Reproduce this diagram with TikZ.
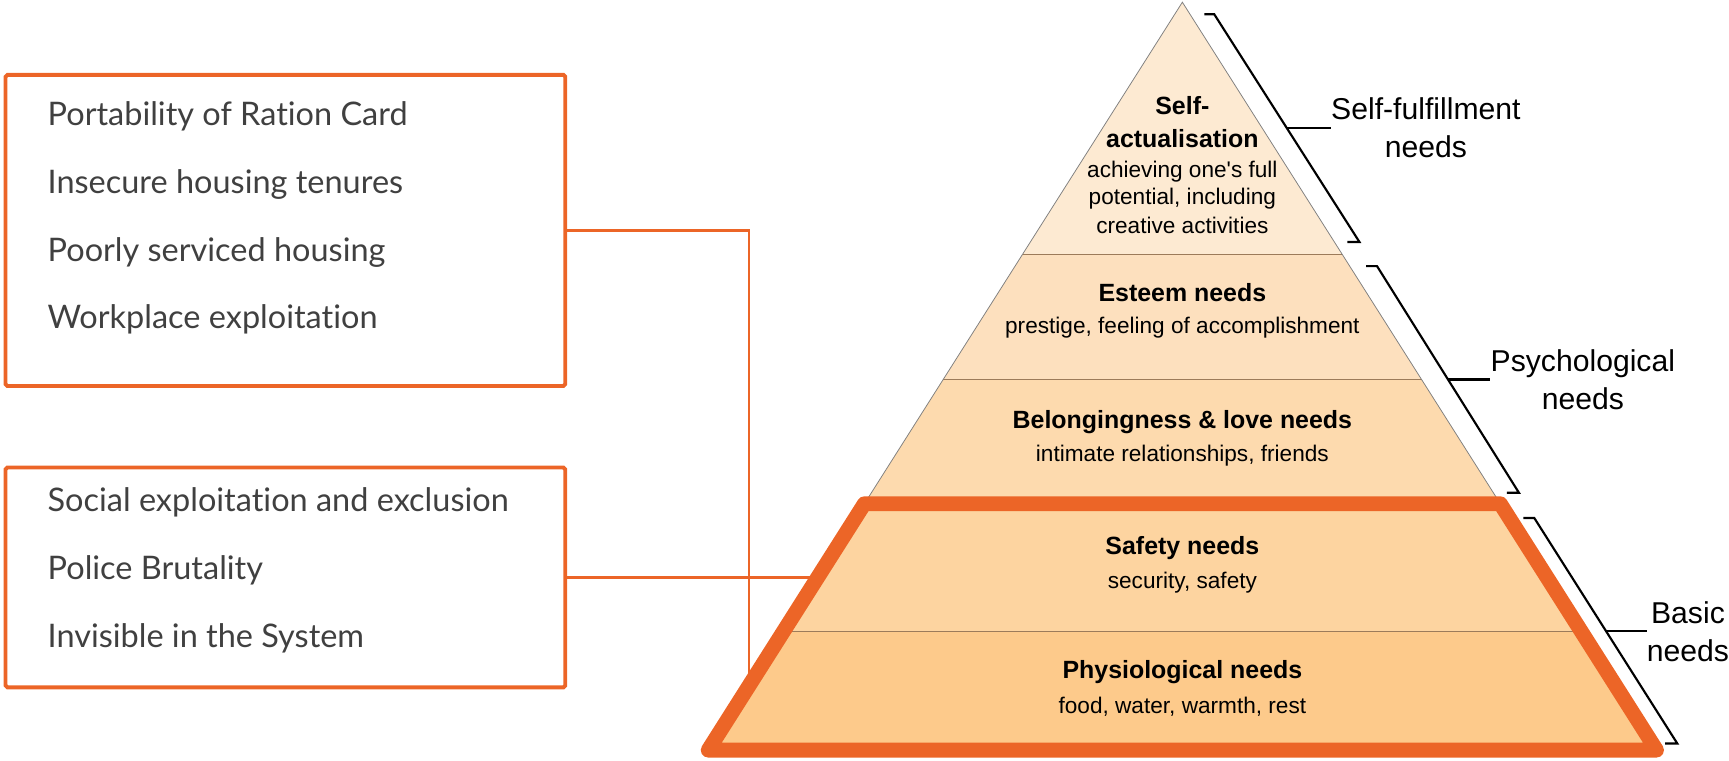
\documentclass[tikz,border=0pt]{standalone}
\usepackage{fontspec}
\setmainfont{Liberation Sans}
\newfontfamily\issuefont[Ligatures=NoCommon]{Lato}
\definecolor{hiorange}{HTML}{EC6527}
\definecolor{issuetext}{HTML}{404040}
\definecolor{selfcol}{HTML}{FDEAD2}
\definecolor{esteemcol}{HTML}{FDE0BE}
\definecolor{belongcol}{HTML}{FDDAAE}
\definecolor{safetycol}{HTML}{FDD4A0}
\definecolor{physiocol}{HTML}{FDCA8B}
\definecolor{bandline}{HTML}{9C7B5A}

\begin{document}
\begin{tikzpicture}[x=0.02cm,y=-0.02cm]
    \tikzstyle{issuebox}=[draw=hiorange, line width=2pt, rounded corners=1pt, minimum width=10.18cm]
    \tikzstyle{issue}=[anchor=base west, inner sep=0, text=issuetext, font=\issuefont\fontsize{16.8}{20}\selectfont]
    \tikzstyle{layertitle}=[anchor=base, inner sep=0, font=\fontsize{12.9}{15}\selectfont\bfseries]
    \tikzstyle{detail}=[anchor=base, inner sep=0, font=\fontsize{11.7}{14}\selectfont]
    \tikzstyle{needlabel}=[anchor=west, inner sep=0, align=center, font=\fontsize{15.6}{19.6}\selectfont]
    \tikzstyle{band}=[draw=bandline, line width=0.6pt]
    \tikzstyle{link}=[draw=hiorange, line width=1.5pt]
    \tikzstyle{levelbrace}=[line width=1.1pt]

    \useasboundingbox (0,0) rectangle (1572,691);

    \node[issuebox, minimum height=5.66cm] (housing) at (259.5,209.5) {};
    \node[issuebox, minimum height=4cm] (social) at (259.5,525) {};
    \node[issue] (ration) at (43,114) {Portability of Ration Card};
    \node[issue] (tenure) at (43,176) {Insecure housing tenures};
    \node[issue] (serviced) at (43,238) {Poorly serviced housing};
    \node[issue] (workplace) at (43,299) {Workplace exploitation};
    \node[issue] (exclusion) at (43,465) {Social exploitation and exclusion};
    \node[issue] (police) at (43,527) {Police Brutality};
    \node[issue] (invisible) at (43,589) {Invisible in the System};

    \fill[selfcol] (1075,2) -- (1220.2,231) -- (929.8,231) -- cycle;
    \fill[esteemcol] (929.8,231) -- (1220.2,231) -- (1292.5,345) -- (857.5,345) -- cycle;
    \fill[belongcol] (857.5,345) -- (1292.5,345) -- (1364.1,458) -- (785.9,458) -- cycle;
    \fill[safetycol] (785.9,458) -- (1364.1,458) -- (1437.6,574) -- (712.4,574) -- cycle;
    \fill[physiocol] (712.4,574) -- (1437.6,574) -- (1506.1,682) -- (643.9,682) -- cycle;
    \draw[band] (929.8,231) -- (1220.2,231);
    \draw[band] (857.5,345) -- (1292.5,345);
    \draw[band] (712.4,574) -- (1437.6,574);
    \draw[gray, line width=0.4pt] (643.9,682) -- (1075,2) -- (1506.1,682);

    \node[layertitle] (selfa) at (1075,104.5) {Self-};
    \node[layertitle] (selfb) at (1075,134) {actualisation};
    \node[detail] (selfc) at (1075,161) {achieving one\textquotesingle s full};
    \node[detail] (selfd) at (1075,186) {potential, including};
    \node[detail] (selfe) at (1075,212) {creative activities};
    \node[layertitle] (esteem) at (1075,274) {Esteem needs};
    \node[detail] (esteemd) at (1075,303) {prestige, feeling of accomplishment};
    \node[layertitle] (belong) at (1075,390) {Belongingness \& love needs};
    \node[detail] (belongd) at (1075,420) {intimate relationships, friends};
    \node[layertitle] (safety) at (1075,504) {Safety needs};
    \node[detail] (safetyd) at (1075,535) {security, safety};
    \node[layertitle] (physio) at (1075,617) {Physiological needs};
    \node[detail] (physiod) at (1075,649) {food, water, warmth, rest};

    \coordinate (edgeA) at (681,623);
    \coordinate (edgeB) at (743.4,525);
    \draw[link] (housing.east) -| (edgeA);
    \draw[link] (social.east) -- (edgeB);

    \draw[hiorange, line width=7.7pt, line join=round] (785.9,458) -- (1364.1,458) -- (1506.1,682) -- (643.9,682) -- cycle;

    \node[needlabel] (fulfil) at (1210,116) {Self-fulfillment\\needs};
    \node[needlabel] (psych) at (1355,345) {Psychological\\needs};
    \node[needlabel] (basic) at (1497,574) {Basic\\needs};
    \coordinate (fulfilmid) at (1169.7,116);
    \coordinate (psychmid) at (1316.5,345);
    \coordinate (basicmid) at (1460.3,574);
    \draw[levelbrace] (1095,13) -- (1104,13) -- (1236,220) -- (1225,220);
    \draw[levelbrace] (1242,242) -- (1252,242) -- (1381,448) -- (1370,448);
    \draw[levelbrace] (1385,471) -- (1395,471) -- (1525,676) -- (1514,676);
    \draw[levelbrace] (fulfilmid) -- (fulfil.west);
    \draw[levelbrace] (psychmid) -- (psych.west);
    \draw[levelbrace] (basicmid) -- (basic.west);
\end{tikzpicture}
\end{document}
